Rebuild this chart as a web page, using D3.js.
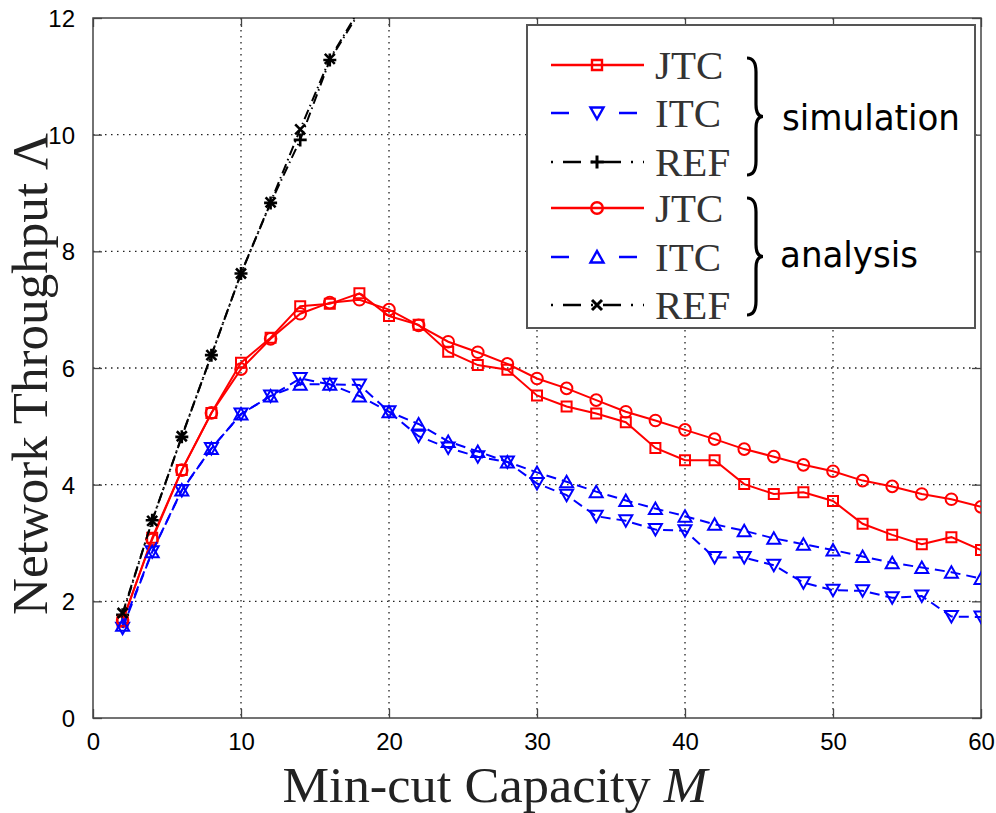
<!DOCTYPE html>
<html>
<head>
<meta charset="utf-8">
<script src="https://cdn.jsdelivr.net/npm/d3@7"></script>
<style>
  html, body { margin: 0; padding: 0; background: #fff; }
  svg { display: block; }
</style>
</head>
<body>
<svg id="chart" width="996" height="813"></svg>
<script>
// min-cut capacity M (x axis)
const capacity = [2, 4, 6, 8, 10, 12, 14, 16, 18, 20, 22, 24, 26, 28, 30, 32, 34, 36, 38, 40,
  42, 44, 46, 48, 50, 52, 54, 56, 58, 60];
const refCapacity = [2, 4, 6, 8, 10, 12, 14, 16, 18];

// network throughput
const jtcSim = [1.65, 3.09, 4.25, 5.23, 6.09, 6.52, 7.06, 7.10, 7.28, 6.89,
  6.74, 6.28, 6.05, 5.97, 5.53, 5.34, 5.22, 5.07, 4.63, 4.42,
  4.42, 4.01, 3.84, 3.87, 3.72, 3.33, 3.14, 2.98, 3.10, 2.88];
const itcSim = [1.54, 2.85, 3.90, 4.62, 5.21, 5.52, 5.82, 5.72, 5.71, 5.25,
  4.83, 4.63, 4.48, 4.39, 4.02, 3.82, 3.46, 3.38, 3.23, 3.21,
  2.75, 2.75, 2.62, 2.32, 2.19, 2.18, 2.06, 2.09, 1.74, 1.73];
const refSim = [1.77, 3.39, 4.82, 6.22, 7.62, 8.83, 9.91, 11.28, 12.10];
const jtcAna = [1.68, 3.06, 4.25, 5.23, 5.98, 6.50, 6.93, 7.12, 7.17, 7.00,
  6.73, 6.45, 6.27, 6.07, 5.82, 5.65, 5.45, 5.25, 5.10, 4.94,
  4.78, 4.61, 4.48, 4.34, 4.23, 4.07, 3.97, 3.84, 3.75, 3.62];
const itcAna = [1.59, 2.85, 3.91, 4.62, 5.21, 5.52, 5.72, 5.72, 5.52, 5.25,
  5.04, 4.74, 4.57, 4.39, 4.21, 4.05, 3.88, 3.73, 3.59, 3.46,
  3.32, 3.21, 3.08, 2.98, 2.88, 2.77, 2.66, 2.58, 2.50, 2.39];
const refAna = [1.80, 3.38, 4.83, 6.22, 7.62, 8.84, 10.09, 11.30, 12.15];

const xTicks = [0, 10, 20, 30, 40, 50, 60];
const yTicks = [0, 2, 4, 6, 8, 10, 12];

const legendNames = ['JTC', 'ITC', 'REF', 'JTC', 'ITC', 'REF'];
const groupNames = ['simulation', 'analysis'];

const series = [
  { xs: capacity, ys: jtcSim, color: '#ff0000', dash: null, marker: 'square' },
  { xs: capacity, ys: itcSim, color: '#0000ff', dash: '10,6', marker: 'tridown' },
  { xs: refCapacity, ys: refSim, color: '#000', dash: '10,4,1.5,4', marker: 'plus' },
  { xs: capacity, ys: jtcAna, color: '#ff0000', dash: null, marker: 'circle' },
  { xs: capacity, ys: itcAna, color: '#0000ff', dash: '10,6', marker: 'triup' },
  { xs: refCapacity, ys: refAna, color: '#000', dash: '10,4,1.5,4', marker: 'cross' }
];

const svg = d3.select('#chart');
const pLeft = 93, pRight = 981, pTop = 18, pBottom = 718;

const x = d3.scaleLinear().domain([0, 60]).range([pLeft, pRight]);
const y = d3.scaleLinear().domain([0, 12]).range([pBottom, pTop]);

svg.append('defs').append('clipPath').attr('id', 'plot-clip')
  .append('rect')
  .attr('x', pLeft).attr('y', pTop)
  .attr('width', pRight - pLeft).attr('height', pBottom - pTop);

// dotted grid
const grid = svg.append('g').attr('stroke', '#222').attr('stroke-width', 1.3)
  .attr('stroke-dasharray', '1.5,4.5');
grid.selectAll('.gx').data(xTicks.slice(1, -1)).join('line')
  .attr('x1', d => x(d)).attr('x2', d => x(d))
  .attr('y1', pTop).attr('y2', pBottom);
grid.selectAll('.gy').data(yTicks.slice(1, -1)).join('line')
  .attr('y1', d => y(d)).attr('y2', d => y(d))
  .attr('x1', pLeft).attr('x2', pRight);

// axes with inward ticks on all four sides
const tickFont = "'Liberation Sans', Arial, sans-serif";
const xAxis = svg.append('g').attr('transform', `translate(0,${pBottom})`)
  .call(d3.axisBottom(x).tickValues(xTicks).tickSizeInner(-9).tickSizeOuter(0).tickPadding(15));
const yAxis = svg.append('g').attr('transform', `translate(${pLeft},0)`)
  .call(d3.axisLeft(y).tickValues(yTicks).tickSizeInner(-9).tickSizeOuter(0).tickPadding(18));
svg.append('g').attr('transform', `translate(0,${pTop})`)
  .call(d3.axisTop(x).tickValues(xTicks).tickSizeInner(-9).tickSizeOuter(0).tickFormat(''));
svg.append('g').attr('transform', `translate(${pRight},0)`)
  .call(d3.axisRight(y).tickValues(yTicks).tickSizeInner(-9).tickSizeOuter(0).tickFormat(''));
svg.selectAll('.domain').remove();
svg.selectAll('.tick line').attr('stroke', '#444').attr('stroke-width', 1.3);
[xAxis, yAxis].forEach(a => a.selectAll('text')
  .attr('font-family', tickFont).attr('font-size', 24).attr('fill', '#000'));
yAxis.selectAll('text').attr('dy', '0.36em');

svg.append('rect')
  .attr('x', pLeft).attr('y', pTop)
  .attr('width', pRight - pLeft).attr('height', pBottom - pTop)
  .attr('fill', 'none').attr('stroke', '#444').attr('stroke-width', 1.5);

// marker shapes
function markerPath(type) {
  switch (type) {
    case 'square': return 'M-5,-5H5V5H-5Z';
    case 'circle': return 'M-5.8,0A5.8,5.8 0 1,0 5.8,0A5.8,5.8 0 1,0 -5.8,0Z';
    case 'tridown': return 'M-6.5,-5.5H6.5L0,6Z';
    case 'triup': return 'M-6.5,5.5H6.5L0,-6Z';
    case 'plus': return 'M-6.5,0H6.5M0,-6.5V6.5';
    case 'cross': return 'M-5,-5L5,5M-5,5L5,-5';
  }
}

const plot = svg.append('g').attr('clip-path', 'url(#plot-clip)');
const line = d3.line().x(d => x(d[0])).y(d => y(d[1]));

series.forEach(s => {
  const pts = s.xs.map((m, i) => [m, s.ys[i]]);
  plot.append('path')
    .attr('d', line(pts))
    .attr('fill', 'none')
    .attr('stroke', s.color)
    .attr('stroke-width', 2)
    .attr('stroke-dasharray', s.dash);
  plot.selectAll(null)
    .data(pts.filter(p => p[1] <= 12))
    .join('path')
    .attr('transform', d => `translate(${x(d[0])},${y(d[1])})`)
    .attr('d', markerPath(s.marker))
    .attr('fill', 'none')
    .attr('stroke', s.color)
    .attr('stroke-width', s.marker === 'plus' || s.marker === 'cross' ? 2.6 : 2);
});

// axis titles
svg.append('text')
  .attr('x', (pLeft + pRight) / 2 - 42).attr('y', 802)
  .attr('text-anchor', 'middle')
  .attr('font-family', "'Liberation Serif', 'Times New Roman', serif")
  .attr('font-size', 50).attr('fill', '#222')
  .attr('textLength', 425).attr('lengthAdjust', 'spacingAndGlyphs')
  .text('Min-cut Capacity ')
  .append('tspan').attr('font-style', 'italic').text('M');

svg.append('text')
  .attr('transform', 'translate(47,374) rotate(-90)')
  .attr('text-anchor', 'middle')
  .attr('font-family', "'Liberation Serif', 'Times New Roman', serif")
  .attr('font-size', 51).attr('fill', '#222')
  .attr('textLength', 482).attr('lengthAdjust', 'spacingAndGlyphs')
  .text('Network Throughput Λ');

// legend
const legend = svg.append('g');
legend.append('rect')
  .attr('x', 527).attr('y', 25).attr('width', 448).attr('height', 303)
  .attr('fill', '#fff').attr('stroke', '#555').attr('stroke-width', 2);

const rowY = [65, 113, 162, 208, 257, 305];
const legendDash = [null, '18,50,18', '2,10,18,10', null, '18,50,18', '2,10,18,10'];
series.forEach((s, i) => {
  const g = legend.append('g').attr('transform', `translate(0,${rowY[i]})`);
  g.append('line')
    .attr('x1', 551).attr('x2', 644)
    .attr('stroke', s.color).attr('stroke-width', 2.6)
    .attr('stroke-dasharray', legendDash[i]);
  g.append('path')
    .attr('transform', 'translate(597,0)')
    .attr('d', markerPath(s.marker))
    .attr('fill', 'none').attr('stroke', s.color)
    .attr('stroke-width', s.marker === 'plus' || s.marker === 'cross' ? 3 : 2.4);
  g.append('text')
    .attr('x', 655).attr('y', 14)
    .attr('font-family', "'Liberation Serif', 'Times New Roman', serif")
    .attr('font-size', 41).attr('fill', '#333')
    .text(legendNames[i]);
});

// curly braces grouping the rows
function brace(x0, y0, y1) {
  const ym = (y0 + y1) / 2, xs = x0 + 9, xt = x0 + 16;
  return `M${x0},${y0} Q${xs},${y0} ${xs},${y0 + 14} L${xs},${ym - 12} Q${xs},${ym} ${xt},${ym}` +
    ` Q${xs},${ym} ${xs},${ym + 12} L${xs},${y1 - 14} Q${xs},${y1} ${x0},${y1}`;
}
[[58, 175], [198, 315]].forEach(([a, b], i) => {
  legend.append('path')
    .attr('d', brace(747, a, b))
    .attr('fill', 'none').attr('stroke', '#000').attr('stroke-width', 3.2);
  legend.append('text')
    .attr('x', i === 0 ? 782 : 780).attr('y', i === 0 ? 130 : 267)
    .attr('font-family', "'DejaVu Sans', Verdana, sans-serif")
    .attr('font-size', 35).attr('fill', '#000')
    .attr('textLength', i === 0 ? 178 : 138).attr('lengthAdjust', 'spacingAndGlyphs')
    .text(groupNames[i]);
});
</script>
</body>
</html>
